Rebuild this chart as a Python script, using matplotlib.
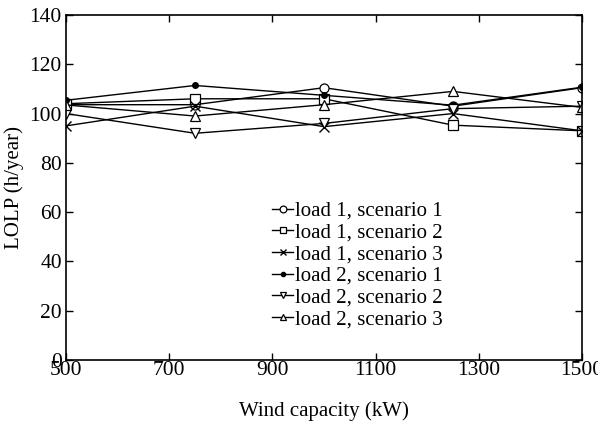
import matplotlib.pyplot as plt

plt.rcParams['font.family'] = ['Liberation Serif', 'DejaVu Serif']

capacity = [500, 750, 1000, 1250, 1500]

l1_s1 = [103.6, 103.6, 110.5, 103.0, 110.5]
l1_s2 = [104.0, 106.0, 106.0, 95.3, 93.0]
l1_s3 = [95.0, 103.0, 94.7, 100.0, 93.0]
l2_s1 = [105.4, 111.4, 107.4, 103.4, 110.7]
l2_s2 = [100.0, 92.0, 96.0, 102.0, 103.0]
l2_s3 = [103.5, 99.0, 103.6, 109.0, 102.5]

labels = ['load 1, scenario 1', 'load 1, scenario 2', 'load 1, scenario 3',
          'load 2, scenario 1', 'load 2, scenario 2', 'load 2, scenario 3']

series = [l1_s1, l1_s2, l1_s3, l2_s1, l2_s2, l2_s3]
markers = ['o', 's', 'x', '.', 'v', '^']

W, H = 598, 423
fig = plt.figure(figsize=(W / 100, H / 100), dpi=100)
ax = fig.add_axes([66 / W, 1 - 360 / H, 516 / W, 345 / H])

for y, m, lab in zip(series, markers, labels):
    if m == '.':
        ax.plot(capacity, y, color='black', lw=1, marker='o', ms=4,
                label=lab)
    elif m == 'x':
        ax.plot(capacity, y, color='black', lw=1, marker='x', ms=6.5,
                mew=1, label=lab)
    else:
        ax.plot(capacity, y, color='black', lw=1, marker=m, ms=6.5,
                mfc='white', mew=0.9, label=lab)

ax.set_xlim(500, 1500)
ax.set_ylim(0, 140)
ax.set_xticks([500, 700, 900, 1100, 1300, 1500])
ax.set_yticks(range(0, 141, 20))
ax.tick_params(direction='in', top=True, right=True, labelsize=15.5,
               length=5, width=1)
ax.tick_params(axis='x', pad=1)
ax.tick_params(axis='y', pad=3)
for s in ax.spines.values():
    s.set_linewidth(1.2)

ax.set_xlabel('Wind capacity (kW)', fontsize=15, labelpad=15)
ax.set_ylabel('LOLP (h/year)', fontsize=15, labelpad=4)

ax.legend(loc='upper left', bbox_to_anchor=(262 / W, 1 - 191 / H),
          bbox_transform=fig.transFigure, frameon=False,
          fontsize=15, handlelength=1.0, handletextpad=0.1,
          labelspacing=0.1, borderpad=0, markerscale=0.75)

fig.savefig('out.png', dpi=100)
